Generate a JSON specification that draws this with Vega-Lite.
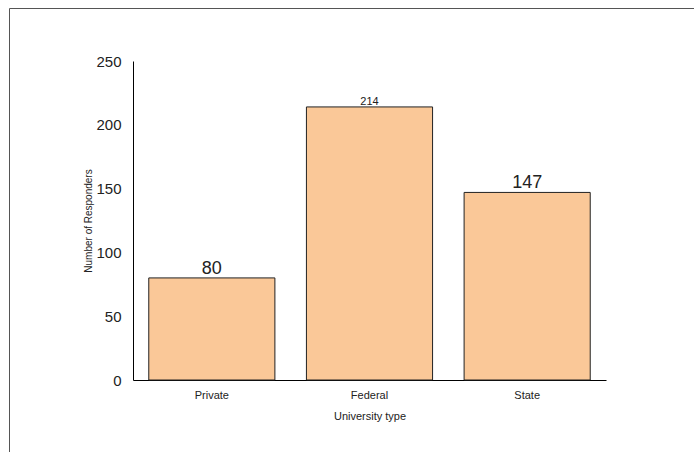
{
  "$schema": "https://vega.github.io/schema/vega-lite/v6.json",
  "autosize": {"type": "none"},
  "padding": {"left": 9, "top": 8, "right": 0, "bottom": 0},
  "width": 685,
  "height": 444,
  "background": "white",
  "config": {
    "font": "Liberation Sans",
    "view": {"stroke": "#555555", "strokeWidth": 1, "strokeDash": [685, 1129, 444, 0]}
  },
  "data": {
    "values": [
      {"type": "Private", "responders": 80},
      {"type": "Federal", "responders": 214},
      {"type": "State", "responders": 147}
    ]
  },
  "encoding": {
    "x": {
      "field": "type",
      "type": "nominal",
      "sort": null,
      "scale": {"range": [124, 597], "paddingInner": 0.2, "paddingOuter": 0.1},
      "axis": {
        "title": "University type",
        "offset": -72,
        "domainColor": "#000000",
        "domainWidth": 1,
        "ticks": false,
        "labelAngle": 0,
        "labelFontSize": 11,
        "labelColor": "#222222",
        "labelPadding": 9,
        "titleFontSize": 11,
        "titleFontWeight": "normal",
        "titleColor": "#222222",
        "titlePadding": 10
      }
    },
    "y": {
      "field": "responders",
      "type": "quantitative",
      "scale": {"domain": [0, 250], "range": [372, 53], "nice": false},
      "axis": {
        "title": "Number of Responders",
        "offset": -124,
        "values": [0, 50, 100, 150, 200, 250],
        "grid": false,
        "domainColor": "#000000",
        "domainWidth": 1,
        "ticks": false,
        "labelFontSize": 15,
        "labelColor": "#222222",
        "labelPadding": 12,
        "titleFontSize": 10,
        "titleFontWeight": "normal",
        "titleColor": "#222222",
        "titlePadding": 2
      }
    }
  },
  "layer": [
    {
      "mark": {"type": "bar", "fill": "#FAC898", "stroke": "#222222", "strokeWidth": 1, "opacity": 1}
    },
    {
      "mark": {"type": "text", "baseline": "bottom", "dy": 0, "color": "#222222"},
      "encoding": {
        "text": {"field": "responders", "type": "quantitative"},
        "size": {
          "condition": {"test": "datum.responders > 200", "value": 11},
          "value": 18
        }
      }
    }
  ]
}
